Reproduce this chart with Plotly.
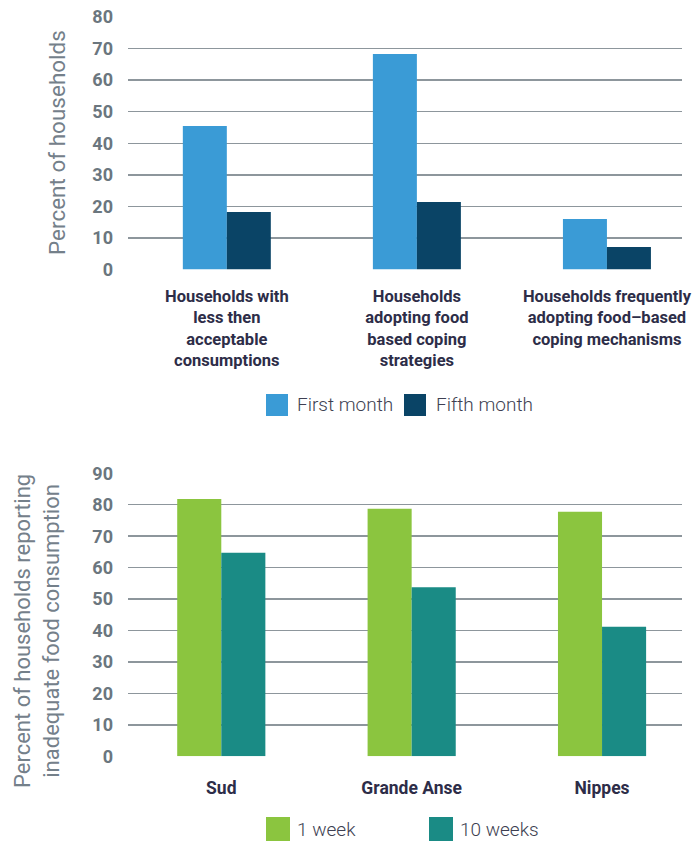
import plotly.graph_objects as go

# ---------------- data ----------------
top_categories = [
    "Households with<br>less then<br>acceptable<br>consumptions",
    "Households<br>adopting food<br>based coping<br>strategies",
    "Households frequently<br>adopting food–based<br>coping mechanisms",
]
first_month = [45.5, 68.3, 16.0]
fifth_month = [18.2, 21.4, 7.1]
top_series_names = ["First month", "Fifth month"]

bottom_categories = ["Sud", "Grande Anse", "Nippes"]
one_week = [81.8, 78.7, 77.8]
ten_weeks = [64.7, 53.8, 41.2]
bottom_series_names = ["1 week", "10 weeks"]

top_ticks = [0, 10, 20, 30, 40, 50, 60, 70, 80]
bottom_ticks = [0, 10, 20, 30, 40, 50, 60, 70, 80, 90]

# ---------------- styling ----------------
W, H = 699, 842
C_FIRST = "#3a9bd6"
C_FIFTH = "#0a4466"
C_WEEK1 = "#8bc53f"
C_WEEK10 = "#1a8b85"
GRID = "#8d969c"
TICK_COL = "#6b767e"
TITLE_COL = "#74808a"
CAT_COL = "#2d2d48"
LEG_COL = "#3e3f52"
FONT = "Roboto"


def px_x(x):
    return x / W


def px_y(y):
    return 1 - y / H


fig = go.Figure()

fig.add_trace(go.Bar(x=top_categories, y=first_month, name=top_series_names[0],
                     marker=dict(color=C_FIRST, line=dict(width=0)),
                     xaxis="x", yaxis="y", showlegend=False))
fig.add_trace(go.Bar(x=top_categories, y=fifth_month, name=top_series_names[1],
                     marker=dict(color=C_FIFTH, line=dict(width=0)),
                     xaxis="x", yaxis="y", showlegend=False))
fig.add_trace(go.Bar(x=bottom_categories, y=one_week, name=bottom_series_names[0],
                     marker=dict(color=C_WEEK1, line=dict(width=0)),
                     xaxis="x2", yaxis="y2", showlegend=False))
fig.add_trace(go.Bar(x=bottom_categories, y=ten_weeks, name=bottom_series_names[1],
                     marker=dict(color=C_WEEK10, line=dict(width=0)),
                     xaxis="x2", yaxis="y2", showlegend=False))

xdom = [px_x(128), px_x(682)]
ydom_top = [px_y(269.5), px_y(17)]
ydom_bot = [px_y(756.3), px_y(473.3)]

common_x = dict(showgrid=False, zeroline=False, showline=False, ticks="",
                automargin=False, type="category", fixedrange=True)
common_y = dict(showgrid=True, gridcolor=GRID, gridwidth=1.5, zeroline=False,
                showline=False, ticks="", ticklabelstandoff=14, automargin=False,
                tickfont=dict(family=FONT, size=18, color=TICK_COL, weight="bold"),
                fixedrange=True)

fig.update_layout(
    width=W, height=H,
    margin=dict(l=0, r=0, t=0, b=0, autoexpand=False),
    paper_bgcolor="white", plot_bgcolor="white",
    barmode="group", bargap=0.537, bargroupgap=0,
    showlegend=False,
    xaxis=dict(domain=xdom, anchor="y", range=[-0.52, 2.395],
               ticklabelstandoff=15,
               tickfont=dict(family=FONT, size=16.5, color=CAT_COL, weight="bold"),
               **common_x),
    yaxis=dict(domain=ydom_top, anchor="x", range=[0, 80],
               tickvals=top_ticks, **common_y),
    xaxis2=dict(domain=xdom, anchor="y2", range=[-0.49, 2.42],
                ticklabelstandoff=19,
                tickfont=dict(family=FONT, size=17.5, color=CAT_COL, weight="bold"),
                **common_x),
    yaxis2=dict(domain=ydom_bot, anchor="x2", range=[0, 90],
                tickvals=bottom_ticks, **common_y),
)

annotations = [
    dict(text="Percent of households", x=px_x(57), y=px_y(143), xref="paper", yref="paper",
         textangle=-90, showarrow=False, xanchor="center", yanchor="middle",
         font=dict(family=FONT, size=22.5, color=TITLE_COL)),
    dict(text="Percent of households reporting<br>inadequate food consumption",
         x=px_x(37), y=px_y(631), xref="paper", yref="paper",
         textangle=-90, showarrow=False, xanchor="center", yanchor="middle",
         font=dict(family=FONT, size=22, color=TITLE_COL)),
]

shapes = []


def legend_item(x0, yc, size, color, label, tx):
    shapes.append(dict(type="rect", xref="paper", yref="paper",
                       x0=px_x(x0), x1=px_x(x0 + size),
                       y0=px_y(yc + size / 2), y1=px_y(yc - size / 2),
                       fillcolor=color, line=dict(width=0)))
    annotations.append(dict(text=label, x=px_x(tx), y=px_y(yc), xref="paper", yref="paper",
                            showarrow=False, xanchor="left", yanchor="middle",
                            font=dict(family=FONT, size=19, color=LEG_COL, weight=300)))


legend_item(266, 405, 22, C_FIRST, top_series_names[0], 295)
legend_item(404, 405, 22, C_FIFTH, top_series_names[1], 434)
legend_item(266, 829, 24, C_WEEK1, bottom_series_names[0], 295)
legend_item(429, 829, 24, C_WEEK10, bottom_series_names[1], 458)

fig.update_layout(annotations=annotations, shapes=shapes)

fig.write_html("out.html",
               config={"displayModeBar": False, "staticPlot": True},
               post_script="document.body.style.margin='0';document.body.style.overflow='hidden';")
